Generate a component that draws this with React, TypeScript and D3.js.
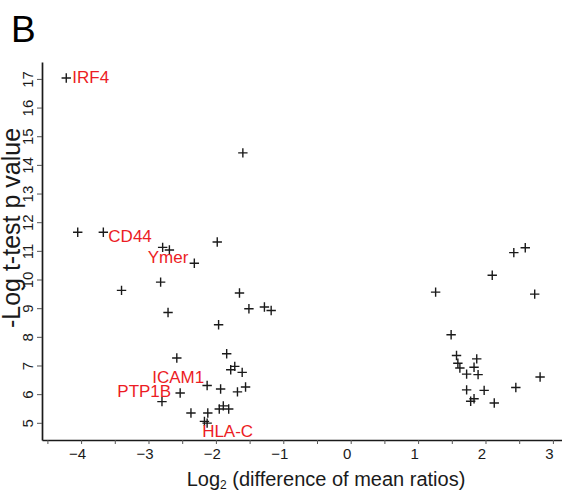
import * as d3 from "d3"
import { useEffect, useRef } from "react"

// log2 difference of mean ratios / -log t-test p value
const logRatio = [
  -4.22, -1.6, -4.05, -3.67, -2.79, -2.69, -1.98, -2.32, -2.82, -3.4, -1.65,
  -1.51, -1.28, -1.18, -2.71, -1.96, -2.58, -1.84, -1.72, -1.78, -1.61, -2.13,
  -1.93, -1.56, -1.68, -2.53, -2.8, -2.37, -2.12, -1.95, -1.89, -1.81, -2.17,
  -2.13, 2.42, 2.59, 2.1, 1.26, 2.73, 1.49, 1.57, 1.87, 1.59, 1.62, 1.83, 1.72,
  1.89, 2.81, 1.72, 1.98, 2.45, 1.83, 1.78, 2.13,
]
const negLogP = [
  17.03, 14.42, 11.65, 11.65, 11.12, 11.03, 11.31, 10.57, 9.91, 9.62, 9.53,
  8.98, 9.04, 8.92, 8.85, 8.42, 7.26, 7.41, 6.97, 6.85, 6.76, 6.3, 6.18, 6.25,
  6.08, 6.04, 5.74, 5.34, 5.34, 5.48, 5.59, 5.48, 5.05, 4.99, 10.94, 11.11,
  10.15, 9.56, 9.49, 8.07, 7.35, 7.23, 7.08, 6.91, 6.94, 6.7, 6.68, 6.6, 6.15,
  6.13, 6.23, 5.84, 5.75, 5.69,
]
const geneNames = ["IRF4", "CD44", "Ymer", "ICAM1", "PTP1B", "HLA-C"]
const geneIndex = [0, 3, 7, 21, 25, 33]
const xTicks = [-4, -3, -2, -1, 0, 1, 2, 3]
const yTicks = [5, 6, 7, 8, 9, 10, 11, 12, 13, 14, 15, 16, 17]

// label placement relative to the marker (px)
const labelLayout = [
  { anchor: "start", dx: 6, dy: 5 },
  { anchor: "start", dx: 5, dy: 10 },
  { anchor: "end", dx: -6, dy: 0 },
  { anchor: "end", dx: -3, dy: -3 },
  { anchor: "end", dx: -9, dy: 4 },
  { anchor: "start", dx: -5, dy: 14 },
]

const W = 562
const H = 492
const FONT = "'Liberation Sans', Arial, sans-serif"
const INK = "#1a1a1a"
const RED = "#ec1c24"

const Volcano = () => {
  const ref = useRef<SVGSVGElement>(null)

  useEffect(() => {
    const svg = d3.select(ref.current)
    svg.selectAll("*").remove()

    const x = d3.scaleLinear().domain([-4.58, 3.135]).range([42, 562])
    const y = d3.scaleLinear().domain([4.4, 17.59]).range([440, 62])

    // x axis, half-unit ticks, labels on whole units only
    const xAxisG = svg
      .append("g")
      .attr("transform", `translate(0,${y.range()[0]})`)
      .call(
        d3
          .axisBottom(x)
          .tickValues(d3.range(-4.5, 3.01, 0.5))
          .tickSize(4)
          .tickSizeOuter(0)
          .tickFormat((d) => (xTicks.includes(+d) ? d3.format("d")(+d) : ""))
      )
    xAxisG.select(".domain").attr("stroke", INK).attr("stroke-width", 1.7)
    xAxisG.selectAll(".tick line").attr("stroke", "#555").attr("stroke-width", 1)
    xAxisG
      .selectAll(".tick text")
      .attr("y", 8)
      .attr("dx", -4)
      .attr("fill", INK)
      .style("font-family", FONT)
      .style("font-size", "15px")

    // y axis, labels turned sideways
    const yAxisG = svg
      .append("g")
      .attr("transform", `translate(${x.range()[0]},0)`)
      .call(d3.axisLeft(y).tickValues(yTicks).tickSize(5).tickSizeOuter(0))
    yAxisG.select(".domain").attr("stroke", INK).attr("stroke-width", 1.7)
    yAxisG.selectAll(".tick line").attr("stroke", "#555").attr("stroke-width", 1)
    yAxisG
      .selectAll(".tick text")
      .attr("x", null)
      .attr("dy", null)
      .attr("transform", "translate(-9,0) rotate(-90)")
      .attr("text-anchor", "middle")
      .attr("fill", INK)
      .style("font-family", FONT)
      .style("font-size", "15px")

    // + markers
    svg
      .append("g")
      .selectAll("path")
      .data(d3.range(logRatio.length))
      .join("path")
      .attr("transform", (i) => `translate(${x(logRatio[i])},${y(negLogP[i])})`)
      .attr("d", "M-4.7,0H4.7M0,-4.7V4.7")
      .attr("stroke", INK)
      .attr("stroke-width", 1.4)
      .attr("fill", "none")

    // gene labels
    svg
      .append("g")
      .selectAll("text")
      .data(geneNames)
      .join("text")
      .attr("x", (_, k) => x(logRatio[geneIndex[k]]) + labelLayout[k].dx)
      .attr("y", (_, k) => y(negLogP[geneIndex[k]]) + labelLayout[k].dy)
      .attr("text-anchor", (_, k) => labelLayout[k].anchor)
      .attr("fill", RED)
      .style("font-family", FONT)
      .style("font-size", "17px")
      .text((d) => d)

    // axis titles
    const xt = svg
      .append("text")
      .attr("x", 326)
      .attr("y", 486)
      .attr("text-anchor", "middle")
      .attr("fill", INK)
      .style("font-family", FONT)
      .style("font-size", "20px")
    xt.append("tspan").text("Log")
    xt.append("tspan").attr("dy", 3).style("font-size", "12px").text("2")
    xt.append("tspan").attr("dy", -3).text(" (difference of mean ratios)")

    svg
      .append("text")
      .attr("transform", "translate(19.5,228) rotate(-90)")
      .attr("text-anchor", "middle")
      .attr("fill", INK)
      .style("font-family", FONT)
      .style("font-size", "25px")
      .text("-Log t-test p value")

    svg
      .append("text")
      .attr("x", 11)
      .attr("y", 42)
      .attr("fill", "#000")
      .style("font-family", FONT)
      .style("font-size", "37px")
      .text("B")
  }, [])

  return (
    <svg
      ref={ref}
      width={W}
      height={H}
      style={{ position: "absolute", left: 0, top: 0, background: "#fff" }}
    />
  )
}

export default function App() {
  return <Volcano />
}
